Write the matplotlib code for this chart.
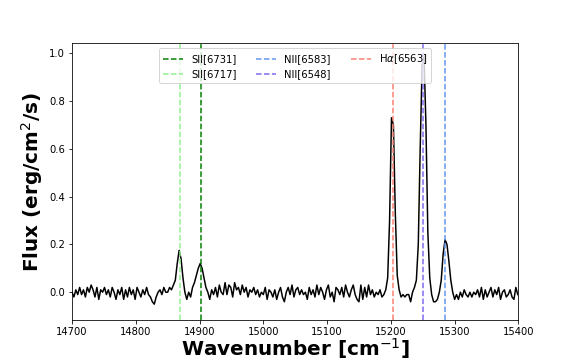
import matplotlib

matplotlib.use("Agg")
import matplotlib.pyplot as plt
import numpy as np

# sampling grid of the spectrum (cm^-1)
wavenumber = np.arange(14700, 15400, 3)

# flux, one row per 30 cm^-1
flux = [
    0.00, -0.02, 0.01, -0.01, 0.02, -0.01, 0.01, -0.02, 0.02, 0.00,
    0.03, 0.01, -0.02, 0.02, -0.03, 0.01, 0.00, 0.02, -0.01, 0.01,
    -0.02, 0.02, 0.00, -0.03, 0.01, -0.01, 0.02, -0.03, 0.01, -0.02,
    0.02, -0.01, 0.01, -0.03, 0.02, 0.00, -0.02, 0.01, -0.01, 0.02,
    -0.01, -0.02, -0.04, -0.05, -0.02, 0.00, 0.01, -0.01, 0.02, 0.00,
    0.00, 0.02, 0.01, 0.03, 0.05, 0.12, 0.175, 0.14, 0.06, 0.00,
    -0.03, 0.00, -0.02, 0.02, 0.04, 0.07, 0.10, 0.12, 0.10, 0.06,
    0.02, 0.00, -0.03, 0.01, -0.01, 0.02, -0.02, 0.03, 0.00, -0.01,
    0.04, -0.01, 0.03, 0.02, -0.02, 0.04, 0.01, 0.02, -0.01, 0.03,
    0.00, 0.02, -0.02, 0.01, 0.00, 0.02, -0.01, 0.01, -0.02, 0.00,
    -0.01, 0.02, -0.03, 0.01, 0.00, -0.02, 0.01, -0.03, 0.00, 0.02,
    -0.02, -0.04, 0.00, 0.02, -0.01, 0.03, -0.02, 0.01, 0.02, -0.01,
    0.01, -0.01, 0.00, -0.03, 0.02, -0.01, 0.01, -0.02, 0.03, -0.01,
    0.02, 0.00, -0.03, 0.01, 0.03, -0.02, 0.00, -0.04, 0.02, 0.01,
    -0.01, 0.02, -0.02, 0.03, 0.00, -0.02, 0.01, 0.03, -0.01, -0.03,
    -0.04, 0.03, -0.03, 0.02, -0.02, 0.03, -0.01, 0.01, -0.02, 0.00,
    -0.01, 0.01, -0.02, -0.01, 0.01, 0.06, 0.30, 0.73, 0.70, 0.33,
    0.07, 0.01, -0.02, -0.01, -0.02, -0.01, -0.01, -0.04, 0.00, 0.02,
    0.05, 0.20, 0.60, 0.95, 0.99, 0.70, 0.25, 0.06, -0.01, -0.04,
    -0.04, -0.03, 0.00, 0.05, 0.16, 0.22, 0.20, 0.13, 0.05, 0.00,
    -0.03, -0.01, -0.03, 0.00, -0.02, 0.01, -0.01, -0.02, 0.00, -0.02,
    0.00, -0.01, 0.01, -0.02, 0.02, -0.03, 0.01, -0.02, 0.00, 0.02,
    -0.02, 0.01, -0.01, 0.02, -0.03, 0.00, 0.01, -0.02, -0.01, 0.01,
    -0.02, -0.03, 0.02, -0.01,
]

# emission line markers
line_labels = ["SII[6731]", "SII[6717]", "NII[6583]", "NII[6548]", r"H$\alpha$[6563]"]
line_positions = [14902.5, 14869.5, 15285.5, 15251.0, 15203.8]
line_colors = ["green", "lightgreen", "cornflowerblue", "mediumslateblue", "salmon"]

fig, ax = plt.subplots(figsize=(8, 5), dpi=72)
ax.plot(wavenumber, flux, color="black", linewidth=1.5)
for label, pos, color in zip(line_labels, line_positions, line_colors):
    ax.axvline(pos, color=color, linestyle="--", linewidth=1.5, label=label)

ax.set_xlim(14700, 15400)
ax.set_ylim(-0.118, 1.042)
ax.set_xlabel(r"Wavenumber [cm$^{-1}$]", fontsize=20, fontweight="bold")
ax.set_ylabel(r"Flux (erg/cm$^2$/s)", fontsize=20, fontweight="bold")
ax.xaxis.set_label_coords(0.5, -0.055)
ax.yaxis.set_label_coords(-0.06, 0.5)
ax.legend(loc="upper center", ncol=3)

fig.savefig("out.png", dpi=72)
